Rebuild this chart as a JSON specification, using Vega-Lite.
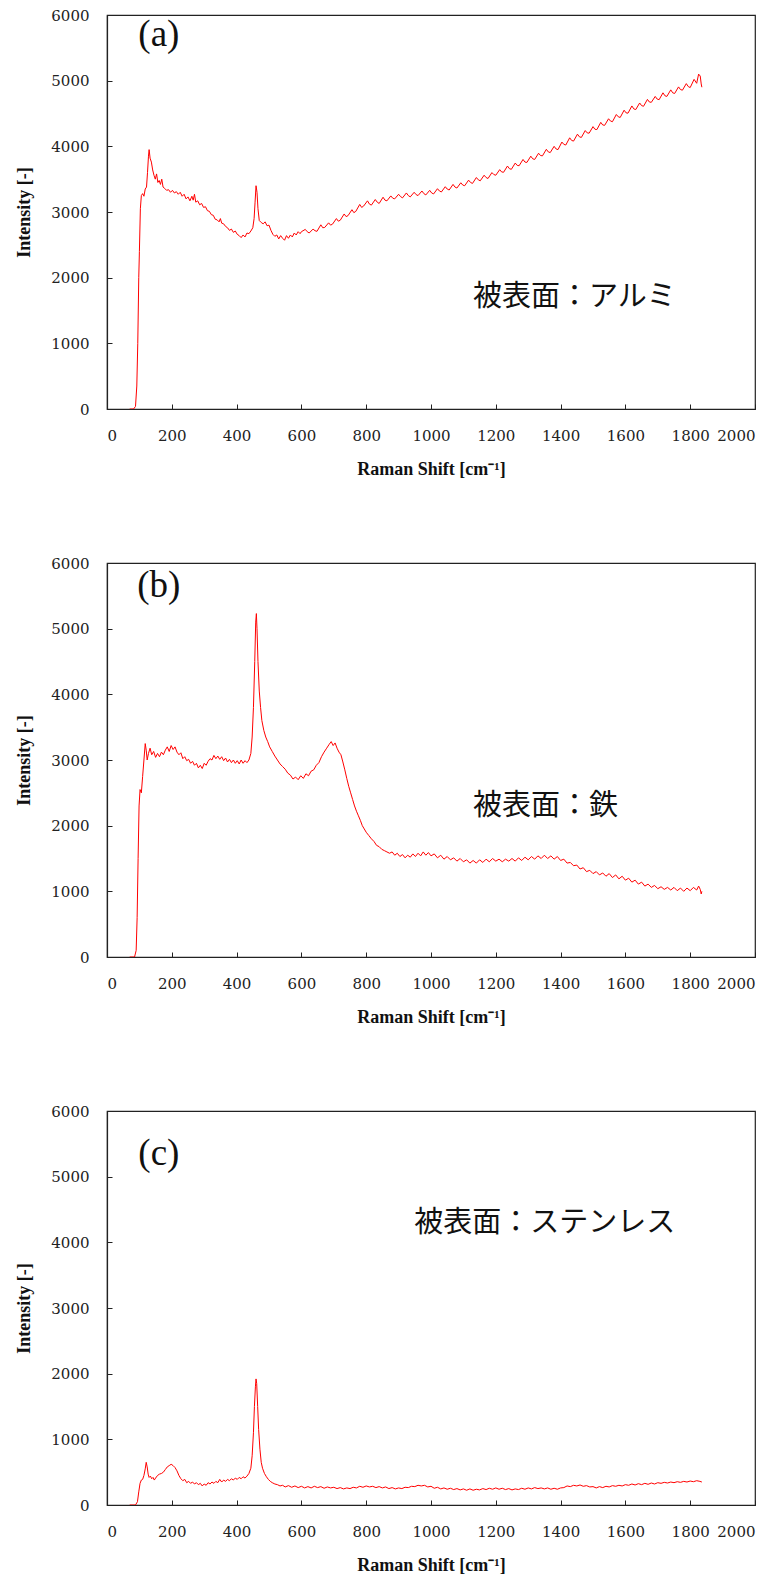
{
  "$schema": "https://vega.github.io/schema/vega-lite/v6.json",
  "padding": {"left": 15, "top": 7, "right": 5, "bottom": 5},
  "spacing": 154,
  "bounds": "flush",
  "background": "white",
  "config": {
    "view": {"stroke": "#222", "strokeWidth": 1.2},
    "axis": {
      "grid": false,
      "domainColor": "#222",
      "domainWidth": 1.2,
      "tickColor": "#222",
      "tickSize": -5,
      "labelFont": "DejaVu Serif",
      "labelFontSize": 15,
      "labelColor": "#222",
      "titleFont": "Liberation Serif",
      "titleFontSize": 18,
      "titleFontWeight": "bold",
      "titleColor": "#111"
    },
    "axisX": {"labelPadding": 24, "titlePadding": 17},
    "axisY": {"labelPadding": 23, "titlePadding": 17}
  },
  "datasets": {
    "a": [
      {"x":70,"y":0},{"x":82,"y":0},{"x":88,"y":40},{"x":92,"y":350},{"x":95,"y":1000},{"x":98,"y":2000},{"x":100,"y":2400},{"x":103,"y":3050},{"x":106,"y":3250},{"x":110,"y":3280},{"x":114,"y":3240},{"x":118,"y":3350},{"x":122,"y":3380},{"x":125,"y":3600},{"x":128,"y":3850},{"x":130,"y":3950},{"x":133,"y":3820},{"x":137,"y":3760},{"x":141,"y":3640},{"x":145,"y":3560},{"x":149,"y":3500},{"x":153,"y":3580},{"x":157,"y":3450},{"x":161,"y":3480},{"x":165,"y":3420},{"x":169,"y":3500},{"x":173,"y":3380},{"x":178,"y":3360},{"x":184,"y":3330},{"x":190,"y":3340},{"x":196,"y":3300},{"x":202,"y":3330},{"x":208,"y":3290},{"x":214,"y":3310},{"x":220,"y":3270},{"x":226,"y":3300},{"x":232,"y":3240},{"x":238,"y":3270},{"x":244,"y":3200},{"x":250,"y":3230},{"x":256,"y":3170},{"x":262,"y":3240},{"x":266,"y":3180},{"x":270,"y":3270},{"x":274,"y":3150},{"x":280,"y":3170},{"x":286,"y":3110},{"x":292,"y":3130},{"x":298,"y":3070},{"x":304,"y":3080},{"x":310,"y":3020},{"x":316,"y":3010},{"x":322,"y":2960},{"x":328,"y":2950},{"x":334,"y":2890},{"x":340,"y":2880},{"x":346,"y":2850},{"x":350,"y":2900},{"x":354,"y":2830},{"x":360,"y":2820},{"x":366,"y":2780},{"x":372,"y":2760},{"x":378,"y":2720},{"x":384,"y":2740},{"x":390,"y":2690},{"x":396,"y":2710},{"x":402,"y":2660},{"x":408,"y":2640},{"x":414,"y":2610},{"x":420,"y":2650},{"x":426,"y":2620},{"x":432,"y":2680},{"x":438,"y":2670},{"x":444,"y":2710},{"x":450,"y":2760},{"x":454,"y":2900},{"x":457,"y":3150},{"x":460,"y":3400},{"x":463,"y":3300},{"x":466,"y":3050},{"x":470,"y":2870},{"x":476,"y":2840},{"x":482,"y":2820},{"x":488,"y":2850},{"x":494,"y":2790},{"x":500,"y":2800},{"x":506,"y":2720},{"x":512,"y":2660},{"x":518,"y":2630},{"x":524,"y":2650},{"x":530,"y":2590},{"x":536,"y":2640},{"x":542,"y":2600},{"x":548,"y":2570},{"x":554,"y":2640},{"x":560,"y":2600},{"x":566,"y":2650},{"x":572,"y":2620},{"x":578,"y":2680},{"x":584,"y":2650},{"x":590,"y":2700},{"x":596,"y":2670},{"x":600,"y":2700},
      {"x":612,"y":2735},{"x":618,"y":2700},{"x":624,"y":2680},{"x":636,"y":2740},{"x":642,"y":2715},{"x":648,"y":2705},{"x":660,"y":2805},{"x":666,"y":2760},{"x":672,"y":2765},{"x":684,"y":2835},{"x":690,"y":2800},{"x":696,"y":2815},{"x":708,"y":2900},{"x":714,"y":2860},{"x":720,"y":2875},{"x":732,"y":2970},{"x":738,"y":2930},{"x":744,"y":2945},{"x":756,"y":3035},{"x":762,"y":2990},{"x":768,"y":3010},{"x":780,"y":3115},{"x":786,"y":3070},{"x":792,"y":3090},{"x":804,"y":3170},{"x":810,"y":3120},{"x":816,"y":3105},{"x":828,"y":3190},{"x":834,"y":3150},{"x":840,"y":3130},{"x":852,"y":3225},{"x":858,"y":3180},{"x":864,"y":3170},{"x":876,"y":3245},{"x":882,"y":3210},{"x":888,"y":3200},{"x":900,"y":3270},{"x":906,"y":3235},{"x":912,"y":3215},{"x":924,"y":3290},{"x":930,"y":3250},{"x":936,"y":3230},{"x":948,"y":3300},{"x":954,"y":3265},{"x":960,"y":3250},{"x":972,"y":3320},{"x":978,"y":3280},{"x":984,"y":3260},{"x":996,"y":3330},{"x":1002,"y":3290},{"x":1008,"y":3275},{"x":1020,"y":3355},{"x":1026,"y":3320},{"x":1032,"y":3305},{"x":1044,"y":3385},{"x":1050,"y":3350},{"x":1056,"y":3335},{"x":1068,"y":3420},{"x":1074,"y":3380},{"x":1080,"y":3365},{"x":1092,"y":3445},{"x":1098,"y":3410},{"x":1104,"y":3400},{"x":1116,"y":3485},{"x":1122,"y":3450},{"x":1128,"y":3435},{"x":1140,"y":3525},{"x":1146,"y":3490},{"x":1152,"y":3475},{"x":1164,"y":3560},{"x":1170,"y":3525},{"x":1176,"y":3510},{"x":1188,"y":3600},{"x":1194,"y":3570},{"x":1200,"y":3560},{"x":1212,"y":3645},{"x":1218,"y":3610},{"x":1224,"y":3605},{"x":1236,"y":3700},{"x":1242,"y":3660},{"x":1248,"y":3650},{"x":1260,"y":3745},{"x":1266,"y":3710},{"x":1272,"y":3705},{"x":1284,"y":3800},{"x":1290,"y":3760},{"x":1296,"y":3755},{"x":1308,"y":3850},{"x":1314,"y":3810},{"x":1320,"y":3800},{"x":1332,"y":3895},{"x":1338,"y":3860},{"x":1344,"y":3855},{"x":1356,"y":3955},{"x":1362,"y":3915},{"x":1368,"y":3905},{"x":1380,"y":4000},{"x":1386,"y":3960},{"x":1392,"y":3950},{"x":1404,"y":4065},{"x":1410,"y":4030},{"x":1416,"y":4020},{"x":1428,"y":4130},{"x":1434,"y":4090},{"x":1440,"y":4080},{"x":1452,"y":4185},{"x":1458,"y":4145},{"x":1464,"y":4135},{"x":1476,"y":4240},{"x":1482,"y":4205},{"x":1488,"y":4200},{"x":1500,"y":4300},{"x":1506,"y":4260},{"x":1512,"y":4255},{"x":1524,"y":4365},{"x":1530,"y":4325},{"x":1536,"y":4320},{"x":1548,"y":4420},{"x":1554,"y":4385},{"x":1560,"y":4375},{"x":1572,"y":4485},{"x":1578,"y":4450},{"x":1584,"y":4440},{"x":1596,"y":4550},{"x":1602,"y":4510},{"x":1608,"y":4505},{"x":1620,"y":4615},{"x":1626,"y":4570},{"x":1632,"y":4560},{"x":1644,"y":4660},{"x":1650,"y":4620},{"x":1656,"y":4610},{"x":1668,"y":4715},{"x":1674,"y":4675},{"x":1680,"y":4670},{"x":1692,"y":4760},{"x":1698,"y":4720},{"x":1704,"y":4710},{"x":1716,"y":4815},{"x":1722,"y":4770},{"x":1728,"y":4760},{"x":1740,"y":4860},{"x":1746,"y":4815},{"x":1752,"y":4805},{"x":1764,"y":4905},{"x":1770,"y":4865},{"x":1776,"y":4855},{"x":1788,"y":4955},{"x":1794,"y":4910},{"x":1800,"y":4895},{"x":1812,"y":5020},{"x":1820,"y":4960},{"x":1826,"y":5100},{"x":1831,"y":5070},{"x":1834,"y":4950},{"x":1836,"y":4900}
    ],
    "b": [
      {"x":70,"y":0},{"x":85,"y":0},{"x":90,"y":100},{"x":93,"y":600},{"x":96,"y":1500},{"x":99,"y":2300},{"x":102,"y":2550},{"x":106,"y":2500},{"x":110,"y":2750},{"x":114,"y":3000},{"x":118,"y":3250},{"x":121,"y":3150},{"x":124,"y":3000},{"x":128,"y":3100},{"x":133,"y":3180},{"x":138,"y":3080},{"x":144,"y":3130},{"x":150,"y":3040},{"x":156,"y":3100},{"x":162,"y":3050},{"x":168,"y":3120},{"x":174,"y":3080},{"x":180,"y":3150},{"x":186,"y":3200},{"x":192,"y":3130},{"x":198,"y":3220},{"x":204,"y":3160},{"x":210,"y":3200},{"x":216,"y":3120},{"x":222,"y":3080},{"x":228,"y":3110},{"x":234,"y":3020},{"x":240,"y":3050},{"x":246,"y":2990},{"x":252,"y":3010},{"x":258,"y":2950},{"x":264,"y":2980},{"x":270,"y":2920},{"x":276,"y":2950},{"x":282,"y":2880},{"x":288,"y":2920},{"x":294,"y":2870},{"x":300,"y":2950},{"x":306,"y":2920},{"x":312,"y":2980},{"x":318,"y":3020},{"x":324,"y":3000},{"x":330,"y":3070},{"x":336,"y":3020},{"x":342,"y":3060},{"x":348,"y":3010},{"x":354,"y":3050},{"x":360,"y":2990},{"x":366,"y":3030},{"x":372,"y":2970},{"x":378,"y":3010},{"x":384,"y":2960},{"x":390,"y":3000},{"x":396,"y":2950},{"x":402,"y":2990},{"x":408,"y":2940},{"x":414,"y":3000},{"x":420,"y":2950},{"x":426,"y":2990},{"x":432,"y":2960},{"x":438,"y":3000},{"x":444,"y":3100},{"x":448,"y":3350},{"x":452,"y":3800},{"x":456,"y":4500},{"x":459,"y":5100},{"x":461,"y":5230},{"x":463,"y":5000},{"x":466,"y":4500},{"x":470,"y":4050},{"x":474,"y":3800},{"x":478,"y":3600},{"x":484,"y":3450},{"x":490,"y":3350},{"x":496,"y":3280},{"x":502,"y":3200},{"x":510,"y":3130},{"x":518,"y":3060},{"x":526,"y":3000},{"x":534,"y":2940},{"x":542,"y":2900},{"x":550,"y":2860},{"x":558,"y":2800},{"x":566,"y":2770},{"x":574,"y":2710},{"x":582,"y":2740},{"x":590,"y":2700},{"x":598,"y":2760},{"x":606,"y":2720},{"x":614,"y":2790},{"x":622,"y":2760},{"x":630,"y":2830},{"x":638,"y":2850},{"x":646,"y":2920},{"x":654,"y":2960},{"x":662,"y":3050},{"x":670,"y":3120},{"x":678,"y":3180},{"x":686,"y":3240},{"x":692,"y":3280},{"x":698,"y":3220},{"x":704,"y":3260},{"x":710,"y":3180},{"x":716,"y":3120},{"x":722,"y":3080},{"x":728,"y":2970},{"x":734,"y":2850},{"x":740,"y":2720},{"x":746,"y":2600},{"x":752,"y":2500},{"x":758,"y":2400},{"x":764,"y":2300},{"x":770,"y":2220},{"x":776,"y":2150},{"x":782,"y":2080},{"x":788,"y":2000},{"x":794,"y":1950},{"x":800,"y":1900},{"x":808,"y":1850},{"x":816,"y":1800},{"x":824,"y":1760},{"x":832,"y":1700},{"x":840,"y":1680},{"x":848,"y":1640},{"x":856,"y":1620},{"x":864,"y":1600},{"x":872,"y":1580},{"x":880,"y":1600},{"x":888,"y":1550},{"x":896,"y":1580},{"x":904,"y":1530},{"x":912,"y":1560},{"x":920,"y":1510},{"x":928,"y":1550},{"x":936,"y":1520},{"x":944,"y":1570},{"x":952,"y":1530},{"x":960,"y":1580},{"x":968,"y":1540},{"x":976,"y":1600},{"x":984,"y":1550},{"x":992,"y":1590},{"x":1000,"y":1540},{"x":1010,"y":1570},{"x":1020,"y":1510},{"x":1030,"y":1550},{"x":1040,"y":1490},{"x":1050,"y":1530},{"x":1060,"y":1480},{"x":1070,"y":1510},{"x":1080,"y":1460},{"x":1090,"y":1500},{"x":1100,"y":1450},{"x":1110,"y":1480},{"x":1120,"y":1430},{"x":1130,"y":1470},{"x":1140,"y":1430},{"x":1150,"y":1480},{"x":1160,"y":1440},{"x":1170,"y":1490},{"x":1180,"y":1450},{"x":1190,"y":1500},{"x":1200,"y":1460},{"x":1210,"y":1490},{"x":1220,"y":1450},{"x":1230,"y":1490},{"x":1240,"y":1460},{"x":1250,"y":1500},{"x":1260,"y":1460},{"x":1270,"y":1510},{"x":1280,"y":1470},{"x":1290,"y":1520},{"x":1300,"y":1480},{"x":1310,"y":1530},{"x":1320,"y":1490},{"x":1330,"y":1540},{"x":1340,"y":1500},{"x":1350,"y":1550},{"x":1360,"y":1500},{"x":1370,"y":1540},{"x":1380,"y":1490},{"x":1390,"y":1530},{"x":1400,"y":1470},{"x":1410,"y":1490},{"x":1420,"y":1430},{"x":1430,"y":1440},{"x":1440,"y":1390},{"x":1450,"y":1400},{"x":1460,"y":1340},{"x":1470,"y":1360},{"x":1480,"y":1300},{"x":1490,"y":1320},{"x":1500,"y":1270},{"x":1510,"y":1300},{"x":1520,"y":1250},{"x":1530,"y":1280},{"x":1540,"y":1230},{"x":1550,"y":1270},{"x":1560,"y":1210},{"x":1570,"y":1250},{"x":1580,"y":1190},{"x":1590,"y":1230},{"x":1600,"y":1170},{"x":1610,"y":1200},{"x":1620,"y":1140},{"x":1630,"y":1170},{"x":1640,"y":1110},{"x":1650,"y":1140},{"x":1660,"y":1080},{"x":1670,"y":1110},{"x":1680,"y":1060},{"x":1690,"y":1090},{"x":1700,"y":1040},{"x":1710,"y":1070},{"x":1720,"y":1030},{"x":1730,"y":1060},{"x":1740,"y":1020},{"x":1750,"y":1060},{"x":1760,"y":1010},{"x":1770,"y":1050},{"x":1780,"y":1000},{"x":1790,"y":1050},{"x":1800,"y":1010},{"x":1810,"y":1060},{"x":1820,"y":1020},{"x":1826,"y":1080},{"x":1831,"y":1030},{"x":1834,"y":960},{"x":1836,"y":1000}
    ],
    "c": [
      {"x":70,"y":0},{"x":88,"y":0},{"x":94,"y":50},{"x":98,"y":200},{"x":102,"y":330},{"x":106,"y":380},{"x":110,"y":390},{"x":114,"y":450},{"x":118,"y":550},{"x":121,"y":650},{"x":124,"y":580},{"x":127,"y":470},{"x":130,"y":420},{"x":134,"y":440},{"x":138,"y":400},{"x":142,"y":420},{"x":146,"y":380},{"x":150,"y":410},{"x":156,"y":450},{"x":162,"y":470},{"x":168,"y":480},{"x":174,"y":500},{"x":180,"y":540},{"x":186,"y":580},{"x":192,"y":600},{"x":198,"y":620},{"x":204,"y":600},{"x":210,"y":570},{"x":216,"y":520},{"x":222,"y":450},{"x":228,"y":400},{"x":234,"y":370},{"x":240,"y":390},{"x":246,"y":340},{"x":252,"y":360},{"x":258,"y":330},{"x":264,"y":350},{"x":270,"y":320},{"x":276,"y":340},{"x":282,"y":310},{"x":288,"y":330},{"x":294,"y":290},{"x":300,"y":320},{"x":306,"y":300},{"x":312,"y":340},{"x":318,"y":320},{"x":324,"y":350},{"x":330,"y":330},{"x":336,"y":360},{"x":342,"y":340},{"x":348,"y":390},{"x":354,"y":350},{"x":360,"y":380},{"x":366,"y":360},{"x":372,"y":390},{"x":378,"y":370},{"x":384,"y":400},{"x":390,"y":380},{"x":396,"y":410},{"x":402,"y":390},{"x":408,"y":420},{"x":414,"y":400},{"x":420,"y":430},{"x":426,"y":410},{"x":432,"y":440},{"x":438,"y":480},{"x":444,"y":560},{"x":448,"y":750},{"x":452,"y":1100},{"x":455,"y":1500},{"x":458,"y":1800},{"x":460,"y":1920},{"x":462,"y":1850},{"x":465,"y":1500},{"x":468,"y":1150},{"x":472,"y":850},{"x":476,"y":650},{"x":480,"y":560},{"x":486,"y":480},{"x":492,"y":430},{"x":498,"y":390},{"x":504,"y":360},{"x":510,"y":340},{"x":518,"y":320},{"x":526,"y":310},{"x":534,"y":290},{"x":542,"y":300},{"x":550,"y":275},{"x":560,"y":295},{"x":570,"y":270},{"x":580,"y":290},{"x":590,"y":265},{"x":600,"y":285},{"x":610,"y":260},{"x":620,"y":280},{"x":630,"y":260},{"x":640,"y":285},{"x":650,"y":265},{"x":660,"y":280},{"x":670,"y":255},{"x":680,"y":275},{"x":690,"y":260},{"x":700,"y":270},{"x":710,"y":250},{"x":720,"y":265},{"x":730,"y":245},{"x":740,"y":260},{"x":750,"y":250},{"x":760,"y":270},{"x":770,"y":260},{"x":780,"y":285},{"x":790,"y":270},{"x":800,"y":290},{"x":810,"y":275},{"x":820,"y":285},{"x":830,"y":265},{"x":840,"y":280},{"x":850,"y":260},{"x":860,"y":275},{"x":870,"y":250},{"x":880,"y":265},{"x":890,"y":245},{"x":900,"y":260},{"x":910,"y":250},{"x":920,"y":270},{"x":930,"y":265},{"x":940,"y":285},{"x":950,"y":280},{"x":960,"y":300},{"x":970,"y":290},{"x":980,"y":300},{"x":990,"y":275},{"x":1000,"y":285},{"x":1010,"y":255},{"x":1020,"y":270},{"x":1030,"y":245},{"x":1040,"y":260},{"x":1050,"y":240},{"x":1060,"y":255},{"x":1070,"y":235},{"x":1080,"y":250},{"x":1090,"y":230},{"x":1100,"y":245},{"x":1110,"y":225},{"x":1120,"y":245},{"x":1130,"y":225},{"x":1140,"y":240},{"x":1150,"y":230},{"x":1160,"y":250},{"x":1170,"y":235},{"x":1180,"y":255},{"x":1190,"y":240},{"x":1200,"y":260},{"x":1210,"y":240},{"x":1220,"y":255},{"x":1230,"y":235},{"x":1240,"y":250},{"x":1250,"y":230},{"x":1260,"y":245},{"x":1270,"y":235},{"x":1280,"y":255},{"x":1290,"y":240},{"x":1300,"y":260},{"x":1310,"y":245},{"x":1320,"y":265},{"x":1330,"y":250},{"x":1340,"y":260},{"x":1350,"y":245},{"x":1360,"y":260},{"x":1370,"y":240},{"x":1380,"y":255},{"x":1390,"y":240},{"x":1400,"y":260},{"x":1410,"y":265},{"x":1420,"y":290},{"x":1430,"y":280},{"x":1440,"y":300},{"x":1450,"y":290},{"x":1460,"y":305},{"x":1470,"y":285},{"x":1480,"y":295},{"x":1490,"y":275},{"x":1500,"y":280},{"x":1510,"y":260},{"x":1520,"y":280},{"x":1530,"y":265},{"x":1540,"y":285},{"x":1550,"y":275},{"x":1560,"y":295},{"x":1570,"y":285},{"x":1580,"y":300},{"x":1590,"y":290},{"x":1600,"y":310},{"x":1610,"y":300},{"x":1620,"y":320},{"x":1630,"y":305},{"x":1640,"y":325},{"x":1650,"y":310},{"x":1660,"y":330},{"x":1670,"y":315},{"x":1680,"y":335},{"x":1690,"y":320},{"x":1700,"y":340},{"x":1710,"y":330},{"x":1720,"y":345},{"x":1730,"y":335},{"x":1740,"y":350},{"x":1750,"y":340},{"x":1760,"y":355},{"x":1770,"y":345},{"x":1780,"y":360},{"x":1790,"y":350},{"x":1800,"y":365},{"x":1810,"y":355},{"x":1820,"y":370},{"x":1830,"y":360},{"x":1836,"y":350}
    ],
    "la": [{"x":160,"y":5700,"t":"(a)"}],
    "lb": [{"x":160,"y":5650,"t":"(b)"}],
    "lc": [{"x":160,"y":5350,"t":"(c)"}],
    "na": [{"x":1130,"y":1700,"t":"被表面：アルミ"}],
    "nb": [{"x":1130,"y":2300,"t":"被表面：鉄"}],
    "nc": [{"x":948,"y":4300,"t":"被表面：ステンレス"}]
  },
  "vconcat": [
    {
      "width": 648, "height": 394,
      "encoding": {
        "x": {"field": "x", "type": "quantitative", "scale": {"domain": [0, 2000], "nice": false}, "axis": {"title": "Raman Shift [cm⁻¹]", "values": [0,200,400,600,800,1000,1200,1400,1600,1800,2000], "format": "d"}},
        "y": {"field": "y", "type": "quantitative", "scale": {"domain": [0, 6000], "nice": false}, "axis": {"title": "Intensity [-]", "values": [0,1000,2000,3000,4000,5000,6000], "format": "d"}}
      },
      "layer": [
        {"data": {"name": "a"}, "mark": {"type": "line", "color": "#ff0000", "strokeWidth": 1, "clip": true}},
        {"data": {"name": "la"}, "mark": {"type": "text", "font": "Liberation Serif", "fontSize": 37, "align": "center", "baseline": "middle", "color": "#111"}, "encoding": {"text": {"field": "t"}}},
        {"data": {"name": "na"}, "mark": {"type": "text", "font": "Noto Sans CJK JP", "fontSize": 29, "align": "left", "baseline": "middle", "color": "#111"}, "encoding": {"text": {"field": "t"}}}
      ]
    },
    {
      "width": 648, "height": 394,
      "encoding": {
        "x": {"field": "x", "type": "quantitative", "scale": {"domain": [0, 2000], "nice": false}, "axis": {"title": "Raman Shift [cm⁻¹]", "values": [0,200,400,600,800,1000,1200,1400,1600,1800,2000], "format": "d"}},
        "y": {"field": "y", "type": "quantitative", "scale": {"domain": [0, 6000], "nice": false}, "axis": {"title": "Intensity [-]", "values": [0,1000,2000,3000,4000,5000,6000], "format": "d"}}
      },
      "layer": [
        {"data": {"name": "b"}, "mark": {"type": "line", "color": "#ff0000", "strokeWidth": 1, "clip": true}},
        {"data": {"name": "lb"}, "mark": {"type": "text", "font": "Liberation Serif", "fontSize": 37, "align": "center", "baseline": "middle", "color": "#111"}, "encoding": {"text": {"field": "t"}}},
        {"data": {"name": "nb"}, "mark": {"type": "text", "font": "Noto Sans CJK JP", "fontSize": 29, "align": "left", "baseline": "middle", "color": "#111"}, "encoding": {"text": {"field": "t"}}}
      ]
    },
    {
      "width": 648, "height": 394,
      "encoding": {
        "x": {"field": "x", "type": "quantitative", "scale": {"domain": [0, 2000], "nice": false}, "axis": {"title": "Raman Shift [cm⁻¹]", "values": [0,200,400,600,800,1000,1200,1400,1600,1800,2000], "format": "d"}},
        "y": {"field": "y", "type": "quantitative", "scale": {"domain": [0, 6000], "nice": false}, "axis": {"title": "Intensity [-]", "values": [0,1000,2000,3000,4000,5000,6000], "format": "d"}}
      },
      "layer": [
        {"data": {"name": "c"}, "mark": {"type": "line", "color": "#ff0000", "strokeWidth": 1, "clip": true}},
        {"data": {"name": "lc"}, "mark": {"type": "text", "font": "Liberation Serif", "fontSize": 37, "align": "center", "baseline": "middle", "color": "#111"}, "encoding": {"text": {"field": "t"}}},
        {"data": {"name": "nc"}, "mark": {"type": "text", "font": "Noto Sans CJK JP", "fontSize": 29, "align": "left", "baseline": "middle", "color": "#111"}, "encoding": {"text": {"field": "t"}}}
      ]
    }
  ]
}
